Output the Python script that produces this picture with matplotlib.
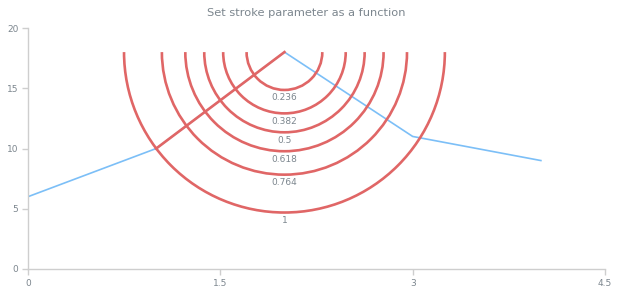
import numpy as np
import matplotlib
matplotlib.use("Agg")
import matplotlib.pyplot as plt
from matplotlib.patches import Arc

# data
xs = [0, 1, 2, 3, 4]
ys = [6, 10, 18, 11, 9]
fib_start = (1, 10)
fib_end = (2, 18)
levels = [0.236, 0.382, 0.5, 0.618, 0.764, 1]
level_labels = ["0.236", "0.382", "0.5", "0.618", "0.764", "1"]
x_ticks = [0, 1.5, 3, 4.5]
y_ticks = [0, 5, 10, 15, 20]

W, H = 620, 300
fig = plt.figure(figsize=(W / 100, H / 100), dpi=100)
left, right, top, bottom = 28, 605, 28, 269
ax = fig.add_axes([left / W, 1 - bottom / H, (right - left) / W, (bottom - top) / H])
ax.set_xlim(0, 4.5)
ax.set_ylim(0, 20)

gray = "#7c868e"
axis_col = "#cecece"
red = "#e06666"
blue = "#7cbff7"

ax.plot(xs, ys, color=blue, lw=1.2, zorder=2)
ax.plot([fib_start[0], fib_end[0]], [fib_start[1], fib_end[1]], color=red, lw=1.9, zorder=3)

# arcs are circles in pixel space
px_x = (right - left) / 4.5
px_y = (bottom - top) / 20.0
dx = (fib_end[0] - fib_start[0]) * px_x
dy = (fib_end[1] - fib_start[1]) * px_y
r_px = np.hypot(dx, dy)
for lv, lab in zip(levels, level_labels):
    r = lv * r_px
    ax.add_patch(Arc(fib_end, 2 * r / px_x, 2 * r / px_y, theta1=180, theta2=360,
                     color=red, lw=1.9, zorder=3))
    ax.text(fib_end[0], fib_end[1] - (r + 8) / px_y, lab, ha="center", va="center",
            fontsize=6.5, color=gray)

for s in ["top", "right"]:
    ax.spines[s].set_visible(False)
for s in ["left", "bottom"]:
    ax.spines[s].set_color(axis_col)
    ax.spines[s].set_linewidth(1)
ax.set_xticks(x_ticks)
ax.set_xticklabels(["0", "1.5", "3", "4.5"])
ax.set_yticks(y_ticks)
ax.tick_params(colors=axis_col, labelcolor=gray, labelsize=6.5, length=4, width=1, pad=3)

fig.text(306 / W, 1 - 13 / H, "Set stroke parameter as a function", ha="center", va="center",
         fontsize=8.2, color=gray)

fig.savefig("out.png", dpi=100)
